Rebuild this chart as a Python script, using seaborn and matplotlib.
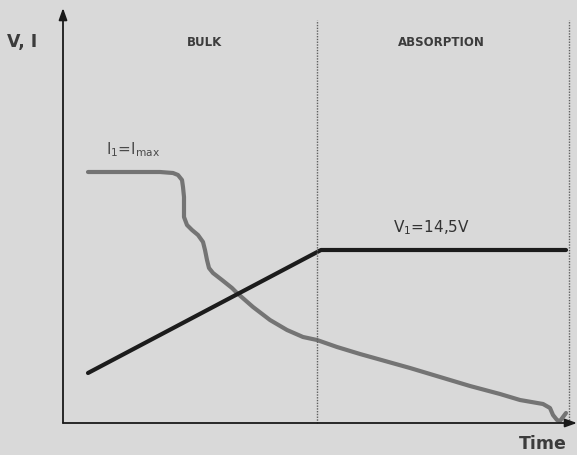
import matplotlib
matplotlib.use("Agg")
import matplotlib.pyplot as plt
import seaborn as sns
import pandas as pd

# charge curve (time units, value units; origin at the axes corner)
current_t = [25, 97, 110, 115, 119, 120, 121, 121, 121, 124, 129, 135, 140, 142, 144,
             146, 150, 159, 169, 174, 190, 207, 224, 240, 254, 274, 297, 347, 377,
             407, 437, 457, 480, 487, 490, 494, 497, 500, 503]
current_v = [251, 251, 250, 248, 243, 236, 226, 216, 206, 198, 193, 188, 181, 173, 163,
             155, 150, 143, 135, 130, 116, 103, 93, 86, 83, 76, 69, 55, 46,
             37, 29, 23, 19, 15, 8, 3, 2, 6, 10]
voltage_t = [25, 258, 503]
voltage_v = [50, 173, 173]
phase_edges = [254, 506]
phase_names = ["BULK", "ABSORPTION"]
phase_centers = [142, 378]

bg = "#d9d9d9"
sns.set_style("white")

fig = plt.figure(figsize=(5.77, 4.55), dpi=100, facecolor=bg)
ax = fig.add_axes([0, 0, 1, 1])
ax.set_facecolor(bg)
ax.set_xlim(-63, 514)
ax.set_ylim(-32, 423)
ax.axis("off")

cur = pd.DataFrame({"t": current_t, "v": current_v})
vol = pd.DataFrame({"t": voltage_t, "v": voltage_v})

sns.lineplot(data=cur, x="t", y="v", sort=False, estimator=None, color="#747474",
             linewidth=3.0, solid_capstyle="round", solid_joinstyle="round", ax=ax)
sns.lineplot(data=vol, x="t", y="v", sort=False, estimator=None, color="#1c1c1c",
             linewidth=3.0, solid_capstyle="round", ax=ax)

# phase separators
for e in phase_edges:
    ax.plot([e, e], [0, 403], color="#5f5f5f", linewidth=1.0, linestyle=(0, (1, 1)))

# axes with arrows
arrow = dict(arrowstyle="-|>,head_length=0.7,head_width=0.25", color="#1a1a1a", lw=1.3,
             shrinkA=0, shrinkB=0)
ax.annotate("", xy=(0, 415), xytext=(0, 0), arrowprops=arrow)
ax.annotate("", xy=(514, 0), xytext=(0, 0), arrowprops=arrow)

txt = "#3c3c3c"
ax.text(-41, 381, "V, I", fontsize=12.5, fontweight="bold", color=txt, ha="center", va="center")
for name, c in zip(phase_names, phase_centers):
    ax.text(c, 381, name, fontsize=8.5, fontweight="bold", color=txt, ha="center", va="center")
ax.text(480, -21, "Time", fontsize=12.5, fontweight="bold", color=txt, ha="center", va="center")

ax.text(43, 273, r"I$_1$=I$_{\mathregular{max}}$", fontsize=11, color="#4a4a4a",
        ha="left", va="center")
ax.text(330, 195, r"V$_1$=14,5V", fontsize=11, color="#333333", ha="left", va="center")

fig.savefig("out.png", dpi=100, facecolor=bg)
